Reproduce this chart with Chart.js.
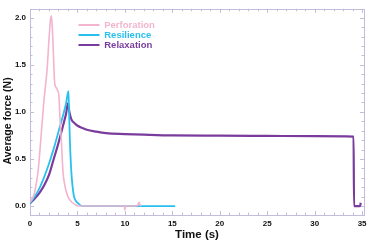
<!DOCTYPE html>
<html>
<head>
<meta charset="utf-8">
<script src="https://cdn.jsdelivr.net/npm/chart.js@4.4.1/dist/chart.umd.min.js"></script>
<style>
  html, body { margin: 0; padding: 0; background: #ffffff; }
  #wrap { width: 372px; height: 247px; position: relative; }
</style>
</head>
<body>
<div id="wrap"><canvas id="c" width="372" height="247"></canvas></div>
<script>
// ---- Data ----
const seriesNames = ["Perforation", "Resilience", "Relaxation"];

const perforationTime  = [0, 0.3, 0.5, 0.85, 1.15, 1.45, 1.8, 2.0, 2.15, 2.25, 2.35, 2.45, 2.6, 2.75, 2.9, 3.05, 3.15, 3.3, 3.48, 3.65, 3.83, 4.05, 4.36, 4.7, 5.1, 7.0, 9.95, 10.0, 10.05, 11.25, 11.4, 11.5, 11.6, 11.7];
const perforationForce = [0.04, 0.09, 0.15, 0.37, 0.72, 1.10, 1.45, 1.77, 1.97, 2.02, 1.90, 1.66, 1.31, 1.26, 1.23, 1.17, 0.95, 0.70, 0.36, 0.23, 0.15, 0.09, 0.045, 0.02, 0.0, 0.0, 0.0, -0.045, 0.0, 0.0, 0.02, 0.04, 0.01, 0.0];

const resilienceTime  = [0, 0.5, 1.0, 1.5, 2.0, 2.5, 3.0, 3.5, 3.8, 4.05, 4.12, 4.2, 4.36, 4.6, 4.8, 5.06, 5.5, 15.3];
const resilienceForce = [0.03, 0.10, 0.19, 0.31, 0.45, 0.61, 0.79, 0.97, 1.09, 1.22, 1.00, 0.71, 0.36, 0.12, 0.06, 0.03, 0.0, 0.0];

const relaxationTime  = [0, 0.5, 1.0, 1.5, 2.0, 2.5, 3.0, 3.5, 3.8, 4.0, 4.15, 4.36, 4.7, 5.06, 5.5, 6.0, 7.0, 8.0, 10.0, 12.0, 15.0, 20.0, 25.0, 30.0, 34.1, 34.15, 34.8, 34.85];
const relaxationForce = [0.03, 0.08, 0.14, 0.22, 0.33, 0.50, 0.67, 0.86, 0.98, 1.09, 1.00, 0.92, 0.88, 0.85, 0.83, 0.81, 0.79, 0.775, 0.765, 0.758, 0.750, 0.748, 0.745, 0.742, 0.738, 0.0, 0.0, 0.035];

const xTickValues = [0, 5, 10, 15, 20, 25, 30, 35];
const yTickValues = [0.0, 0.5, 1.0, 1.5, 2.0];

// ---- Styles ----
const colors = ["#F3B4CE", "#2AC0EE", "#7A3C9C"];
const widths = [1.6, 1.8, 2.2];
const frameColor = "#c3bcda";
const fontFamily = "'Liberation Sans', Arial, Helvetica, sans-serif";

function pts(xs, ys) { return xs.map((x, i) => ({ x: x, y: ys[i] })); }

const dataSeries = [
  pts(perforationTime, perforationForce),
  pts(resilienceTime, resilienceForce),
  pts(relaxationTime, relaxationForce)
];

// Inner ticks and full frame drawn from the chart's scales
const frameTicks = {
  id: 'frameTicks',
  beforeDatasetsDraw(chart) {
    const { ctx, chartArea: a, scales: { x, y } } = chart;
    ctx.save();
    ctx.strokeStyle = frameColor;
    ctx.lineWidth = 1;
    ctx.beginPath();
    for (let v = 0; v <= 35; v += 1) {
      const px = Math.round(x.getPixelForValue(v)) + 0.5;
      const len = (v % 5 === 0) ? 4 : 2.5;
      ctx.moveTo(px, a.bottom); ctx.lineTo(px, a.bottom - len);
      ctx.moveTo(px, a.top); ctx.lineTo(px, a.top + len);
    }
    for (let k = -1; k <= 20; k++) {
      const v = k / 10;
      const py = Math.round(y.getPixelForValue(v)) + 0.5;
      const len = (k % 5 === 0) ? 4 : 2.5;
      ctx.moveTo(a.left, py); ctx.lineTo(a.left + len, py);
      ctx.moveTo(a.right, py); ctx.lineTo(a.right - len, py);
    }
    ctx.stroke();
    ctx.strokeRect(Math.round(a.left) + 0.5, Math.round(a.top) + 0.5, Math.round(a.right - a.left), Math.round(a.bottom - a.top));
    ctx.restore();
  }
};

// Move the built-in legend inside the plot area, nudge the y title down
const legendPlace = {
  id: 'legendPlace',
  afterLayout(chart) {
    const lg = chart.legend;
    if (lg) {
      const pad = lg.options.labels.padding;
      const fs = lg.options.labels.font.size;
      lg.left = 78.5 - pad;
      lg.top = 25 - fs / 2 - pad;
    }
    const ys = chart.scales.y;
    if (ys && !ys._titleShifted) {
      const orig = ys.drawTitle.bind(ys);
      ys.drawTitle = function () {
        const ctx = this.ctx;
        ctx.save();
        ctx.translate(0, 9);
        orig();
        ctx.restore();
      };
      ys._titleShifted = true;
    }
  }
};

new Chart(document.getElementById('c'), {
  type: 'line',
  data: {
    datasets: seriesNames.map((name, i) => ({
      label: name,
      data: dataSeries[i],
      borderColor: colors[i],
      backgroundColor: colors[i],
      borderWidth: widths[i],
      pointRadius: 0,
      fill: false,
      cubicInterpolationMode: 'monotone'
    }))
  },
  options: {
    responsive: false,
    animation: false,
    events: [],
    layout: { padding: { top: 7, right: 8, left: 0, bottom: 0 } },
    plugins: {
      tooltip: { enabled: false },
      legend: {
        position: 'chartArea',
        align: 'start',
        labels: {
          usePointStyle: true,
          pointStyle: 'line',
          pointStyleWidth: 21,
          padding: 0.5,
          font: { family: fontFamily, size: 9.5, weight: 'bold' },
          generateLabels(chart) {
            const items = Chart.defaults.plugins.legend.labels.generateLabels(chart);
            items.forEach((it, i) => { it.fontColor = colors[i]; it.lineWidth = 2; it.pointStyle = 'line'; });
            return items;
          }
        }
      }
    },
    scales: {
      x: {
        type: 'linear',
        min: 0,
        max: 35.2,
        afterFit(s) { s.height = 32; },
        afterBuildTicks(s) { s.ticks = xTickValues.map(v => ({ value: v })); },
        grid: { display: false, drawTicks: false },
        border: { display: false },
        ticks: {
          padding: 4,
          color: '#111',
          maxRotation: 0,
          font: { family: fontFamily, size: 8, weight: 'bold' },
          callback: (v) => String(v)
        },
        title: {
          display: true,
          text: 'Time (s)',
          color: '#111',
          font: { family: fontFamily, size: 11.5, weight: 'bold' },
          padding: { top: 0, bottom: 5 }
        }
      },
      y: {
        type: 'linear',
        min: -0.095,
        max: 2.095,
        afterFit(s) { s.width = 30; },
        afterBuildTicks(s) { s.ticks = yTickValues.map(v => ({ value: v })); },
        grid: { display: false, drawTicks: false },
        border: { display: false },
        ticks: {
          padding: 4,
          color: '#111',
          font: { family: fontFamily, size: 8, weight: 'bold' },
          callback: (v) => Number(v).toFixed(1)
        },
        title: {
          display: true,
          text: 'Average force (N)',
          color: '#111',
          font: { family: fontFamily, size: 10.5, weight: 'bold' },
          padding: { top: 2, bottom: 0 }
        }
      }
    }
  },
  plugins: [frameTicks, legendPlace]
});
</script>
</body>
</html>
